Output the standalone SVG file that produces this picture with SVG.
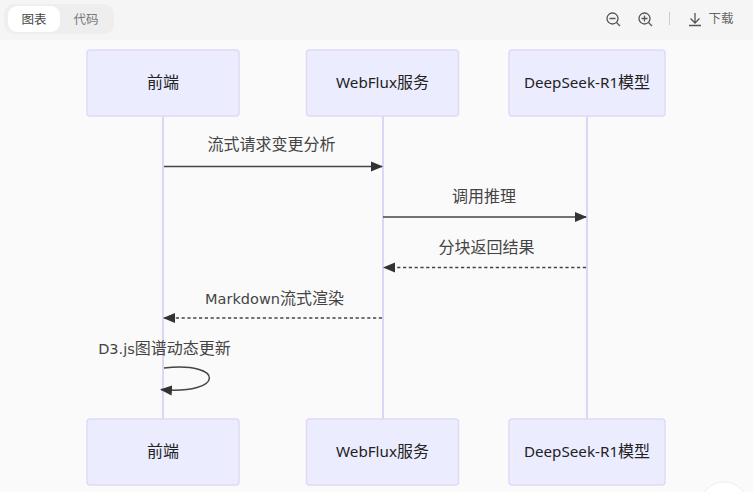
<svg xmlns="http://www.w3.org/2000/svg" width="753" height="492" viewBox="0 0 753 492">
<style>
text{font-family:"Liberation Sans","Noto Sans CJK SC",sans-serif}
.box{fill:#ececff;stroke:#e1d9f7;stroke-width:1.5}
.life{stroke:#ded5f5;stroke-width:2}
.actor{font-size:16px;fill:#222;text-anchor:middle}
.actor .l{font-family:"Noto Sans","Noto Sans CJK SC",sans-serif;font-size:15.2px}
.msg{font-size:16px;fill:#444;text-anchor:middle}
.msg .l{font-family:"DejaVu Sans","Noto Sans CJK SC",sans-serif;font-size:14.5px}
.line{stroke:#444;stroke-width:1.5;fill:none}
.dash{stroke-dasharray:3.2 2.6}
.icon{stroke:#555;stroke-width:1.3;fill:none}
</style>
<defs><marker id="a" markerUnits="userSpaceOnUse" markerWidth="12" markerHeight="12" refX="11" refY="6" orient="auto"><path d="M0 1L12 6L0 11z" fill="#333"/></marker></defs>
<rect width="753" height="492" fill="#fafafa"/>
<rect width="753" height="40" fill="#f5f5f5"/>
<g id="toolbar">
<rect x="4" y="4" width="110" height="30" rx="10" fill="#eeeeee"/>
<rect x="8" y="6" width="52" height="26" rx="9" fill="#fff"/>
<text x="34" y="24" font-size="12.5" fill="#444" text-anchor="middle">图表</text>
<text x="86" y="24" font-size="12.5" fill="#777" text-anchor="middle">代码</text>
<g class="icon"><circle cx="612.500" cy="18.500" r="5.500"/><path d="M609.500 18.500h6M616.500 22.500l3.500 3.500"/><circle cx="644.500" cy="18.500" r="5.500"/><path d="M641.500 18.500h6M644.500 15.500v6M648.500 22.500l3.500 3.500"/><path d="M695 13v10M690.500 18.500l4.500 4.500l4.500-4.500M689 25.500h12"/></g>
<path d="M669.500 12v13" stroke="#ccc"/>
<text x="721" y="23" font-size="12.500" fill="#666" text-anchor="middle">下载</text>
</g>
<g id="lifelines">
<path class="life" d="M163 116V419M383 116V419M587 116V419"/>
</g>
<g id="actor-top-1"><rect class="box" x="87" y="50" width="152" height="66" rx="3"/><text class="actor" x="163" y="88">前端</text></g>
<g id="actor-top-2"><rect class="box" x="306.500" y="50" width="152" height="66" rx="3"/><text class="actor" x="382.500" y="88"><tspan class="l">WebFlux</tspan>服务</text></g>
<g id="actor-top-3"><rect class="box" x="509" y="50" width="156" height="66" rx="3"/><text class="actor" x="587" y="88"><tspan class="l">DeepSeek-R1</tspan>模型</text></g>
<g id="actor-bottom-1"><rect class="box" x="87" y="419" width="152" height="66" rx="3"/><text class="actor" x="163" y="457">前端</text></g>
<g id="actor-bottom-2"><rect class="box" x="306.500" y="419" width="152" height="66" rx="3"/><text class="actor" x="382.500" y="457"><tspan class="l">WebFlux</tspan>服务</text></g>
<g id="actor-bottom-3"><rect class="box" x="509" y="419" width="156" height="66" rx="3"/><text class="actor" x="587" y="457"><tspan class="l">DeepSeek-R1</tspan>模型</text></g>
<g id="connectors">
<path class="line" marker-end="url(#a)" d="M164 166.500H382"/>
<path class="line" marker-end="url(#a)" d="M383 217H586"/>
<path class="line dash" marker-end="url(#a)" d="M586 267.500H384"/>
<path class="line dash" marker-end="url(#a)" d="M382 318H164"/>
<path class="line" marker-end="url(#a)" d="M164 368C225 361 225 395 161 389.500"/>
</g>
<g id="labels">
<text class="msg" x="271.500" y="150">流式请求变更分析</text>
<text class="msg" x="484" y="202">调用推理</text>
<text class="msg" x="486.500" y="252.500">分块返回结果</text>
<text class="msg" x="274.500" y="303.500"><tspan class="l">Markdown</tspan>流式渲染</text>
<text class="msg" x="164.500" y="354"><tspan class="l">D3.js</tspan>图谱动态更新</text>
</g>
<circle cx="724" cy="506" r="24" fill="#fff" stroke="#eee"/>
</svg>
